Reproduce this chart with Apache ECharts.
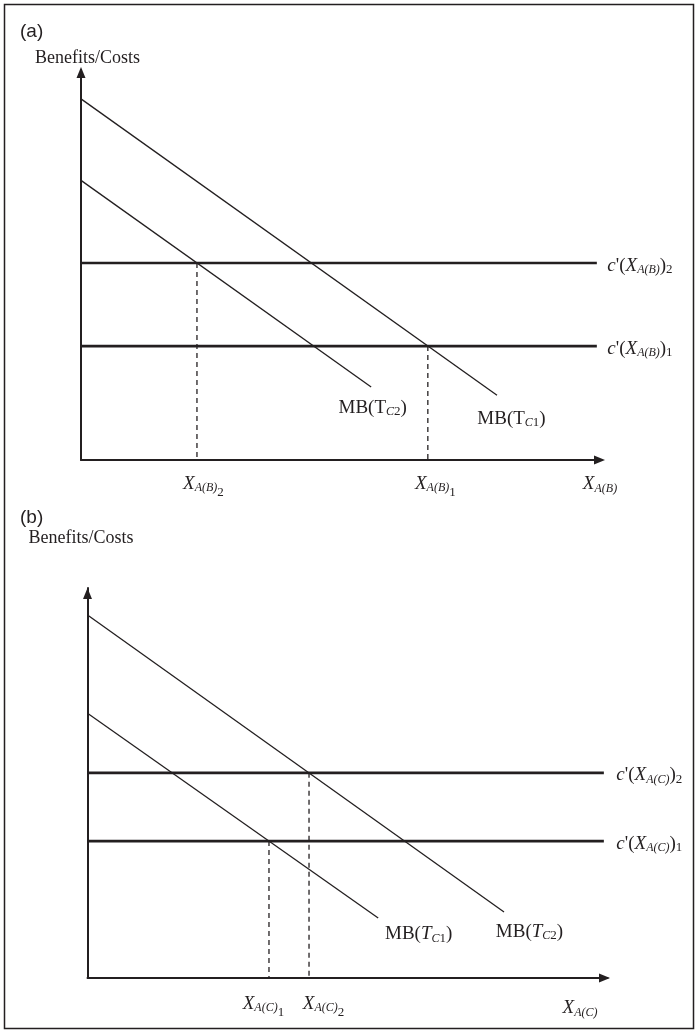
<!DOCTYPE html>
<html><head><meta charset="utf-8">
<script src="https://cdn.jsdelivr.net/npm/echarts@6/dist/echarts.min.js"></script>
<style>html,body{margin:0;padding:0;background:#fff}#c{width:696px;height:1031px}</style>
</head><body><div id="c"></div>
<script>
// ---------- Panel (a) data (axis units 0..10) ----------
const aMB1 = [[0, 9.26], [8.0, 1.66]];    // MB(TC1)
const aMB2 = [[0, 7.17], [5.58, 1.87]];   // MB(TC2)
const aCost2 = [[0, 5.05], [9.92, 5.05]]; // c'(X_A(B))2
const aCost1 = [[0, 2.92], [9.92, 2.92]]; // c'(X_A(B))1
const aX2 = [[2.23, 5.05], [2.23, 0]];    // X_A(B)2
const aX1 = [[6.67, 2.92], [6.67, 0]];    // X_A(B)1
// ---------- Panel (b) data ----------
const bMB2 = [[0, 9.31], [8.01, 1.69]];   // MB(TC2)
const bMB1 = [[0, 6.79], [5.59, 1.54]];   // MB(TC1)
const bCost2 = [[0, 5.26], [9.93, 5.26]];
const bCost1 = [[0, 3.51], [9.93, 3.51]];
const bX1 = [[3.49, 3.51], [3.49, 0]];
const bX2 = [[4.26, 5.26], [4.26, 0]];
// ---------- texts ----------
const panelTitles = ['(a)', '(b)'];
const yNames = ['Benefits/Costs', 'Benefits/Costs'];
const xNames = ['{it|X}{sb|A(B)}', '{it|X}{sb|A(C)}'];
const aLabels = {
  mb1: '{rm|MB(T}{sb|C}{sn|1}{rm|)}', mb2: '{rm|MB(T}{sb|C}{sn|2}{rm|)}',
  c2: "{it|c}{rm|'(}{it|X}{sb|A(B)}{rm|)}{sn|2}", c1: "{it|c}{rm|'(}{it|X}{sb|A(B)}{rm|)}{sn|1}",
  x2: '{it|X}{sb|A(B)}{ss|2}', x1: '{it|X}{sb|A(B)}{ss|1}'
};
const bLabels = {
  mb1: '{rm|MB(}{it|T}{sb|C}{sn|1}{rm|)}', mb2: '{rm|MB(}{it|T}{sb|C}{sn|2}{rm|)}',
  c2: "{it|c}{rm|'(}{it|X}{sb|A(C)}{rm|)}{sn|2}", c1: "{it|c}{rm|'(}{it|X}{sb|A(C)}{rm|)}{sn|1}",
  x1: '{it|X}{sb|A(C)}{ss|1}', x2: '{it|X}{sb|A(C)}{ss|2}'
};

const C = '#231f20';
const F = '"Liberation Serif", "Times New Roman", serif';
const RICH = {
  rm: {fontFamily: F, fontSize: 19, color: C, lineHeight: 24},
  it: {fontFamily: F, fontSize: 19, fontStyle: 'italic', color: C, lineHeight: 24},
  sb: {fontFamily: F, fontSize: 12, fontStyle: 'italic', color: C, lineHeight: 14, padding: [9, 0, 0, 0]},
  sn: {fontFamily: F, fontSize: 13, color: C, lineHeight: 14, padding: [8, 0, 0, 0]},
  ss: {fontFamily: F, fontSize: 13, color: C, lineHeight: 14, padding: [18, 0, 0, 0]}
};

function lbl(text, offset, align) {
  return {show: true, formatter: () => text, position: [0, 0], align: align || 'center',
    verticalAlign: 'middle', offset: offset, rich: RICH, color: C};
}
function series(gi, data, style, labelIdx, label) {
  return {
    type: 'line', xAxisIndex: gi, yAxisIndex: gi, silent: true, animation: false,
    symbol: 'circle', symbolSize: 1, itemStyle: {color: 'rgba(0,0,0,0)'},
    lineStyle: Object.assign({color: C, width: 1.3}, style),
    emphasis: {disabled: true},
    data: data.map((p, i) => i === labelIdx ? {value: p, label: label} : {value: p})
  };
}

const grids = [
  {left: 81, top: 70, width: 520, height: 390},
  {left: 87.5, top: 588, width: 520, height: 390}
];
const xEndOff = [-1.5, -3];
const yEndOff = [-2.5, -5.5];
const xNameGap = [-1, -27.5];
const xNamePad = [[48, 0, 0, 0], [60, 0, 0, 0]];
const yNameGap = [12, 50];
const yNamePad = [[0, 0, 0, 13], [0, 13, 0, 0]];

const option = {
  animation: false,
  backgroundColor: '#fff',
  title: panelTitles.map((t, i) => ({text: t, left: 20, top: i === 0 ? 22 : 508, padding: 0,
    textStyle: {fontFamily: '"Liberation Sans", Arial, sans-serif', fontSize: 19, fontWeight: 'normal', color: C}})),
  grid: grids,
  xAxis: grids.map((g, i) => ({
    gridIndex: i, type: 'value', min: 0, max: 10,
    axisLine: {show: true, onZero: false, symbol: ['none', 'triangle'], symbolSize: [9, 11],
      symbolOffset: [0, xEndOff[i]], lineStyle: {color: C, width: 2}},
    axisTick: {show: false}, axisLabel: {show: false}, splitLine: {show: false},
    name: xNames[i], nameLocation: 'end', nameGap: xNameGap[i],
    nameTextStyle: {align: 'center', verticalAlign: 'middle', padding: xNamePad[i], rich: RICH}
  })),
  yAxis: grids.map((g, i) => ({
    gridIndex: i, type: 'value', min: 0, max: 10,
    axisLine: {show: true, onZero: false, symbol: ['none', 'triangle'], symbolSize: [9, 11],
      symbolOffset: [0, yEndOff[i]], lineStyle: {color: C, width: 2}},
    axisTick: {show: false}, axisLabel: {show: false}, splitLine: {show: false},
    name: yNames[i], nameLocation: 'end', nameGap: yNameGap[i],
    nameTextStyle: {fontFamily: F, fontSize: 18, color: C, align: 'center', verticalAlign: 'middle', padding: yNamePad[i]}
  })),
  graphic: [{type: 'rect', silent: true, shape: {x: 4.5, y: 4.5, width: 689, height: 1024},
    style: {fill: 'none', stroke: C, lineWidth: 1.5}}],
  series: [
    // panel a
    series(0, aCost2, {width: 2.6}, 1, lbl(aLabels.c2, [11, 3], 'left')),
    series(0, aCost1, {width: 2.6}, 1, lbl(aLabels.c1, [11, 3], 'left')),
    series(0, aMB1, {}, 1, lbl(aLabels.mb1, [15, 24])),
    series(0, aMB2, {}, 1, lbl(aLabels.mb2, [2, 21])),
    series(0, aX2, {type: [5, 4]}, 1, lbl(aLabels.x2, [7, 24])),
    series(0, aX1, {type: [5, 4]}, 1, lbl(aLabels.x1, [8, 24])),
    // panel b
    series(1, bCost2, {width: 2.6}, 1, lbl(bLabels.c2, [13, 3], 'left')),
    series(1, bCost1, {width: 2.6}, 1, lbl(bLabels.c1, [13, 3], 'left')),
    series(1, bMB2, {}, 1, lbl(bLabels.mb2, [26, 20])),
    series(1, bMB1, {}, 1, lbl(bLabels.mb1, [41, 17])),
    series(1, bX1, {type: [5, 4]}, 1, lbl(bLabels.x1, [-5, 26])),
    series(1, bX2, {type: [5, 4]}, 1, lbl(bLabels.x2, [15, 26]))
  ]
};
const chart = echarts.init(document.getElementById('c'), null, {renderer: 'canvas'});
chart.setOption(option);
</script>
</body></html>
